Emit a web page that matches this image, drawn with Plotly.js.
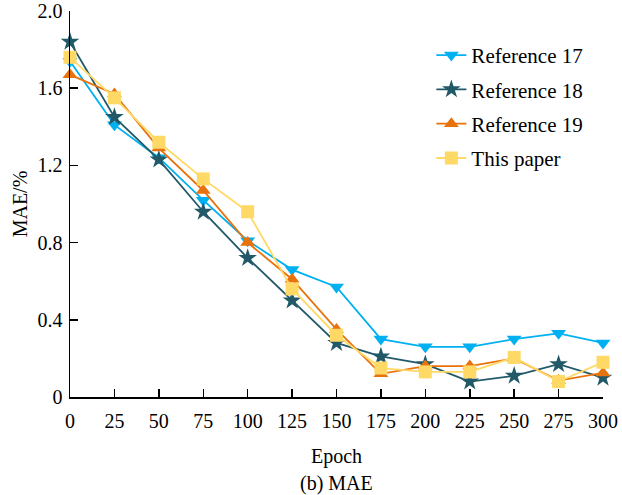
<!DOCTYPE html>
<html><head><meta charset="utf-8">
<script src="https://cdn.plot.ly/plotly-3.0.1.min.js"></script>
<style>body{margin:0;padding:0;background:#fff}#chart{width:622px;height:495px}</style>
</head><body><div id="chart"></div>
<script>
const epochs = [0,25,50,75,100,125,150,175,200,225,250,275,300];
const ref17 = [1.74,1.41,1.24,1.02,0.81,0.66,0.57,0.30,0.26,0.26,0.30,0.33,0.28];
const ref18 = [1.84,1.45,1.23,0.96,0.72,0.50,0.28,0.21,0.17,0.08,0.11,0.17,0.10];
const ref19 = [1.67,1.57,1.29,1.07,0.80,0.61,0.35,0.12,0.16,0.16,0.20,0.085,0.125];
const thisPaper = [1.76,1.55,1.32,1.13,0.96,0.56,0.32,0.15,0.13,0.13,0.205,0.08,0.18];
const names = ["Reference 17","Reference 18","Reference 19","This paper"];
const xTicks = epochs;
const yTicks = [0,0.4,0.8,1.2,1.6,2.0];
const yTickText = ["0","0.4","0.8","1.2","1.6","2.0"];

const font = "Liberation Serif, Times New Roman, serif";
function tr(y, name, color, symbol, size){
  return {x: epochs, y: y, name: name, legendgroup: name, type: 'scatter', mode: 'lines+markers', cliponaxis: false,
    line: {color: color, width: 1.8}, marker: {color: color, symbol: symbol, size: size}};
}
const data = [
  tr(ref17, names[0], '#00B0F0', 'triangle-down', 13),
  tr(ref18, names[1], '#215968', 'star', 14),
  tr(ref19, names[2], '#E8720C', 'triangle-up', 13),
  tr(thisPaper, names[3], '#FFD966', 'square', 13)
];
const layout = {
  width: 622, height: 495,
  margin: {l: 70, r: 19, t: 11, b: 98},
  paper_bgcolor: '#fff', plot_bgcolor: '#fff',
  font: {family: font, size: 20, color: '#000'},
  showlegend: true,
  legend: {x: 0.678, y: 0.938, xanchor: 'left', yanchor: 'top', font: {family: font, size: 21, color: '#000'},
    tracegroupgap: 4, itemwidth: 30, bgcolor: 'rgba(0,0,0,0)'},
  xaxis: {range: [0,300], tickvals: xTicks, ticktext: xTicks.map(String), ticks: 'inside', ticklen: 8,
    tickcolor: '#000', tickwidth: 1.5, showline: true, linecolor: '#000', linewidth: 1.5, showgrid: false,
    zeroline: false, mirror: false, ticklabelstandoff: 5,
    title: {text: 'Epoch', font: {family: font, size: 20}, standoff: 18},
    tickfont: {family: font, size: 20}},
  yaxis: {range: [0,2], tickvals: yTicks, ticktext: yTickText, ticks: 'inside', ticklen: 8,
    tickcolor: '#000', tickwidth: 1.5, showline: true, linecolor: '#000', linewidth: 1.5, showgrid: false,
    zeroline: false, ticklabelstandoff: 2,
    title: {text: 'MAE/%', font: {family: font, size: 20}, standoff: 4},
    tickfont: {family: font, size: 20}},
  annotations: [{text: '(b) MAE', xref: 'paper', yref: 'paper', x: 0.5, y: -0.188, yanchor: 'top',
    showarrow: false, font: {family: font, size: 20, color: '#000'}}]
};
Plotly.newPlot('chart', data, layout, {displayModeBar: false, staticPlot: true});
</script></body></html>
